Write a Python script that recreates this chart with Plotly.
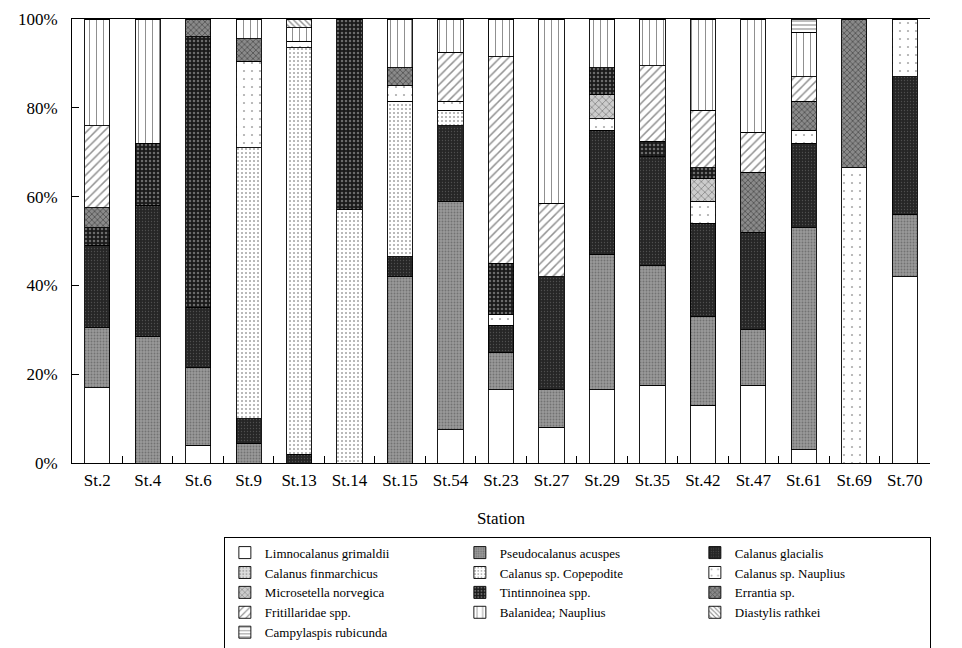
import plotly.graph_objects as go

stations = ["St.2", "St.4", "St.6", "St.9", "St.13", "St.14", "St.15", "St.54", "St.23",
            "St.27", "St.29", "St.35", "St.42", "St.47", "St.61", "St.69", "St.70"]

# percentage composition per station
limnocalanus = [17, 0, 4, 0, 0, 0, 0, 7.5, 16.5, 8, 16.5, 17.5, 13, 17.5, 3, 0, 42]
pseudocalanus = [13.5, 28.5, 17.5, 4.5, 0, 0, 42, 51.5, 8.5, 8.5, 30.5, 27, 20, 12.5, 50, 0, 14]
glacialis = [18.5, 29.5, 13.5, 5.5, 2, 0, 4.5, 17, 6, 25.5, 28, 24.5, 21, 22, 19, 0, 31]
finmarchicus = [0, 0, 0, 0, 0, 0, 0, 0, 0, 0, 0, 0, 0, 0, 0, 0, 0]
copepodite = [0, 0, 0, 61, 91.5, 57, 35, 3.5, 0, 0, 0, 0, 0, 0, 0, 0, 0]
nauplius = [0, 0, 0, 19.5, 1.5, 0, 3.5, 2, 2.5, 0, 2.5, 0, 5, 0, 3, 66.5, 13]
microsetella = [0, 0, 0, 0, 0, 0, 0, 0, 0, 0, 5.5, 0, 5, 0, 0, 0, 0]
tintinnoinea = [4, 14, 61, 0, 0, 43, 0, 0, 11.5, 0, 6, 3.5, 2.5, 0, 0, 0, 0]
errantia = [4.5, 0, 4, 5, 0, 0, 4, 0, 0, 0, 0, 0, 0, 13.5, 6.5, 33.5, 0]
fritillaridae = [18.5, 0, 0, 0, 0, 0, 0, 11, 46.5, 16.5, 0, 17, 13, 9, 5.5, 0, 0]
balanidea = [24, 28, 0, 4.5, 3, 0, 11, 7.5, 8.5, 41.5, 11, 10.5, 20.5, 25.5, 10, 0, 0]
diastylis = [0, 0, 0, 0, 2, 0, 0, 0, 0, 0, 0, 0, 0, 0, 0, 0, 0]
campylaspis = [0, 0, 0, 0, 0, 0, 0, 0, 0, 0, 0, 0, 0, 0, 3, 0, 0]

y_ticks = [0, 20, 40, 60, 80, 100]
y_tick_labels = ["0%", "20%", "40%", "60%", "80%", "100%"]

# (name, values, fill colour, pattern shape, pattern colour, pattern size, solidity)
species = [
    ("Limnocalanus grimaldii", limnocalanus, "white", "", "black", 8, 0.2),
    ("Pseudocalanus acuspes", pseudocalanus, "#9a9a9a", ".", "#4a4a4a", 3, 0.35),
    ("Calanus glacialis", glacialis, "#262626", ".", "#777777", 3, 0.15),
    ("Calanus finmarchicus", finmarchicus, "#dddddd", ".", "#777777", 4, 0.3),
    ("Calanus sp. Copepodite", copepodite, "white", ".", "#444444", 4, 0.2),
    ("Calanus sp. Nauplius", nauplius, "white", ".", "#555555", 8, 0.06),
    ("Microsetella norvegica", microsetella, "#cccccc", "x", "#444444", 5, 0.3),
    ("Tintinnoinea spp.", tintinnoinea, "#1a1a1a", ".", "#bbbbbb", 4, 0.3),
    ("Errantia sp.", errantia, "#8a8a8a", "x", "#222222", 4, 0.4),
    ("Fritillaridae spp.", fritillaridae, "white", "/", "#222222", 6, 0.25),
    ("Balanidea; Nauplius", balanidea, "white", "|", "#222222", 7, 0.15),
    ("Diastylis rathkei", diastylis, "white", "\\", "#222222", 4, 0.35),
    ("Campylaspis rubicunda", campylaspis, "white", "-", "#222222", 4, 0.3),
]

fig = go.Figure()
for name, vals, fill, shape, fg, size, sol in species:
    fig.add_trace(go.Bar(
        x=stations, y=vals, name=name,
        marker=dict(color=fill,
                    line=dict(color="black", width=0.9),
                    pattern=dict(shape=shape, fgcolor=fg, size=size, solidity=sol)),
    ))

serif = "Liberation Serif"
fig.update_layout(
    barmode="stack",
    bargap=0.5,
    width=954, height=640,
    margin=dict(l=64, r=32, t=11, b=185, autoexpand=False),
    paper_bgcolor="white", plot_bgcolor="white",
    font=dict(family=serif, size=16, color="black"),
    showlegend=True,
    legend=dict(
        orientation="h", traceorder="normal",
        x=0.177, xanchor="left",
        yref="container", y=0.174, yanchor="top",
        entrywidth=190, entrywidthmode="pixels",
        bordercolor="black", borderwidth=1,
        font=dict(family=serif, size=13, color="black"),
        bgcolor="white",
    ),
    xaxis=dict(
        title=dict(text="Station", standoff=22, font=dict(family=serif, size=17)),
        showline=True, linecolor="black", linewidth=1, mirror=True,
        ticks="inside", tickson="boundaries", ticklen=7, tickcolor="black",
        tickfont=dict(family=serif, size=17),
        ticklabelstandoff=2,
        showgrid=False, automargin=False,
    ),
    yaxis=dict(
        range=[0, 100], tickmode="array", tickvals=y_ticks, ticktext=y_tick_labels,
        showline=True, linecolor="black", linewidth=1,
        ticks="inside", ticklen=7, tickcolor="black",
        tickfont=dict(family=serif, size=17),
        ticklabelstandoff=10,
        showgrid=False, zeroline=False, automargin=False,
    ),
)

fig.write_html("out.html")
